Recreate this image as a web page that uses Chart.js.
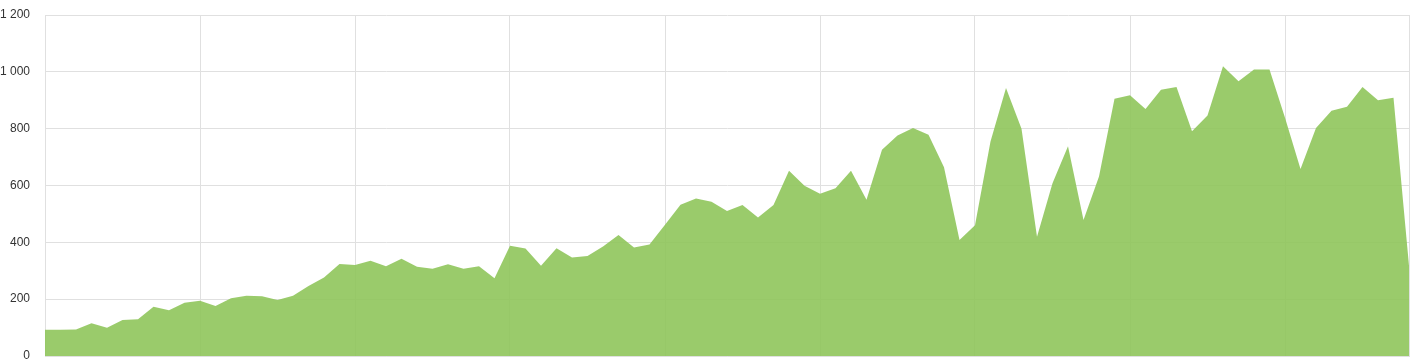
<!DOCTYPE html>
<html>
<head>
<meta charset="utf-8">
<script src="https://cdn.jsdelivr.net/npm/chart.js@4/dist/chart.umd.min.js"></script>
<style>
  html, body { margin: 0; padding: 0; background: #fff; }
  #wrap { width: 1414px; height: 361px; position: relative; }
</style>
</head>
<body>
<div id="wrap"><canvas id="areaChart"></canvas></div>
<script>
// values, one per point (89 points)
const values = [
  92, 92, 93, 115, 99, 127, 129, 173, 161, 187,
  194, 176, 203, 212, 210, 197, 212, 246, 276, 324,
  320, 335, 316, 342, 314, 307, 323, 307, 316, 274,
  388, 378, 318, 379, 347, 352, 385, 426, 382, 392,
  462, 532, 554, 543, 510, 531, 487, 531, 652, 599,
  571, 590, 652, 550, 726, 776, 802, 779, 664, 408,
  460, 755, 943, 800, 420, 608, 738, 479, 632, 905,
  918, 869, 937, 947, 791, 846, 1020, 967, 1008, 1008,
  838, 658, 802, 863, 877, 947, 900, 909, 318
];
const categories = values.map((v, i) => String(i + 1));
const yTicks = [0, 200, 400, 600, 800, 1000, 1200];

const gridColor = "#e0e0e0";

function formatNumber(v) {
  return String(v).replace(/\B(?=(\d{3})+(?!\d))/g, " ");
}

function drawAreaChart() {
  const ctx = document.getElementById("areaChart").getContext("2d");

  const chart = new Chart(ctx, {
    type: "line",
    data: {
      labels: categories,
      datasets: [
        {
          label: "Series",
          data: values,
          fill: "origin",
          backgroundColor: "rgba(140, 196, 86, 0.88)",
          borderColor: "transparent",
          borderWidth: 0,
          pointRadius: 0,
          tension: 0,
        },
      ],
    },
    options: {
      responsive: true,
      maintainAspectRatio: false,
      animation: false,
      layout: {
        padding: { top: 15, right: 5, bottom: 5, left: 0 },
      },
      plugins: {
        legend: { display: false },
        tooltip: { enabled: false },
      },
      scales: {
        x: {
          afterFit: (scale) => {
            scale.height = 0;
          },
          ticks: { display: false },
          grid: {
            drawTicks: false,
            // a vertical line every 10 points, plus the right edge
            color: (c) =>
              c.index % 10 === 0 || c.index === values.length - 1 ? gridColor : "transparent",
          },
          border: { color: gridColor },
        },
        y: {
          min: yTicks[0],
          max: yTicks[yTicks.length - 1],
          afterFit: (scale) => {
            scale.width = 45;
            // labels may overflow the plot edges, like the original
            scale.paddingTop = 0;
            scale.paddingBottom = 0;
          },
          ticks: {
            stepSize: 200,
            padding: 0,
            color: "#333",
            font: { family: "'Liberation Sans', Arial, sans-serif", size: 12 },
            callback: (v) => formatNumber(v),
          },
          grid: {
            color: gridColor,
            tickLength: 15,
            tickColor: "transparent",
          },
          border: { color: gridColor },
        },
      },
    },
  });
}

document.addEventListener("DOMContentLoaded", function () {
  drawAreaChart();
});
</script>
</body>
</html>
